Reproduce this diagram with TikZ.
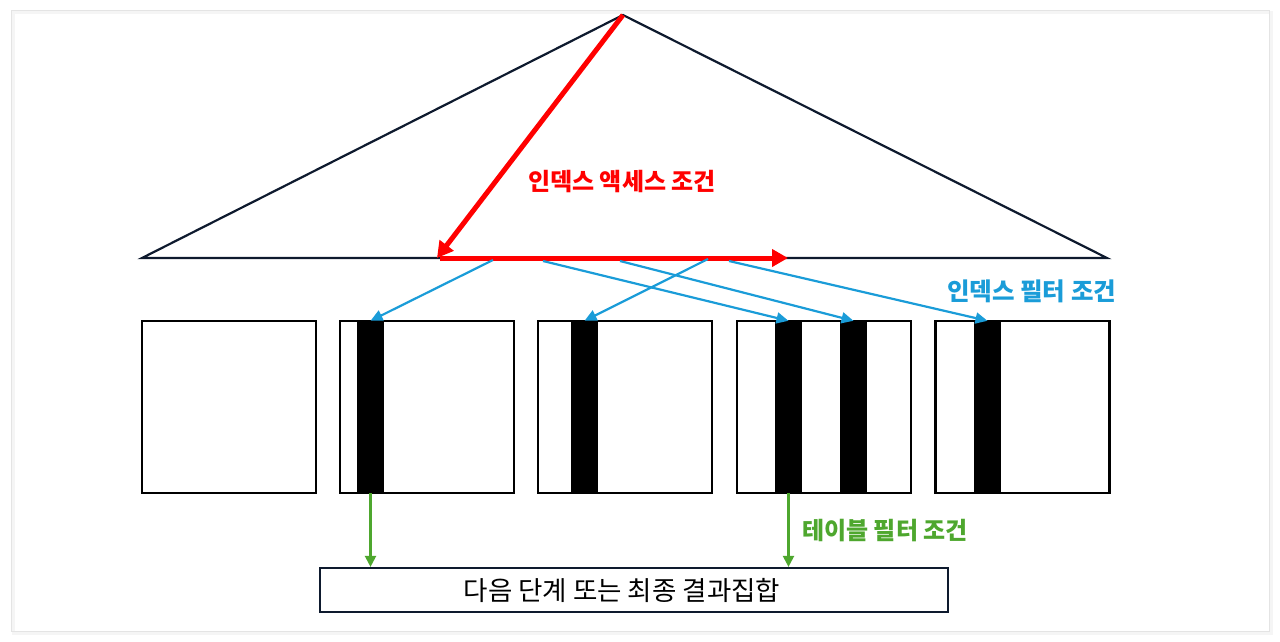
\documentclass[tikz,border=0pt]{standalone}
\usepackage{fontspec}
\newfontfamily\kr{Noto Sans CJK KR}
\usetikzlibrary{arrows.meta}
\definecolor{cred}{HTML}{FF0000}
\definecolor{cblue}{HTML}{1A9CD8}
\definecolor{cgreen}{HTML}{4EA72E}
\definecolor{cnavy}{HTML}{0E1A2E}
\definecolor{cframe}{HTML}{E4E4E4}
\tikzset{
  page box/.style={draw=black, line width=2.8pt, minimum width=174pt, minimum height=172pt, inner sep=0pt, fill=white},
  rowbar/.style={fill=black, draw=none, minimum width=27pt, minimum height=172pt, inner sep=0pt},
  redarrow/.style={draw=cred, line width=5pt, -{Triangle[length=16pt,width=17pt]}},
  bluearrow/.style={draw=cblue, line width=2.2pt, -{Triangle[length=12pt,width=11pt]}},
  greenarrow/.style={draw=cgreen, line width=2.2pt, -{Triangle[length=11pt,width=11pt]}},
  lbl/.style={font=\kr\bfseries\fontsize{24pt}{28pt}\selectfont, inner sep=0pt},
}
\begin{document}
\begin{tikzpicture}[x=1pt,y=-1pt]
\useasboundingbox (0,0) rectangle (1280,641);
% frame with soft shadow
\draw[draw=black!4, line width=3pt] (13,12) rectangle (1271,633);
\draw[draw=cframe, line width=1pt] (11,10) rectangle (1269,631);
% triangle
\coordinate (apex) at (623,15);
\coordinate (bl) at (142,258);
\coordinate (br) at (1107,258);
\draw[cnavy, line width=2.2pt, line join=miter] (bl) -- (apex) -- (br) -- cycle;
% pages
\node[page box] (p1) at (229,407) {};
\node[page box] (p2) at (427,407) {};
\node[page box] (p3) at (625,407) {};
\node[page box] (p4) at (824,407) {};
\node[page box] (p5) at (1022.5,407) {};
\node[rowbar] (b2) at (370.5,407) {};
\node[rowbar] (b3) at (584.5,407) {};
\node[rowbar] (b4a) at (788.5,407) {};
\node[rowbar] (b4b) at (853.5,407) {};
\node[rowbar] (b5) at (987.5,407) {};
% red access arrows
\coordinate (scanstart) at (437,258);
\coordinate (scanend) at (788,258);
\draw[redarrow] (apex) -- (scanstart);
\draw[redarrow] (440,258) -- (scanend);
% blue filter arrows
\coordinate (s1) at (493,260);
\coordinate (s2) at (543,261);
\coordinate (s3) at (620,261);
\coordinate (s4) at (708,259);
\coordinate (s5) at (729,261);
\draw[bluearrow] (s1) -- (b2.north);
\draw[bluearrow] (s2) -- (b4a.north);
\draw[bluearrow] (s3) -- (b4b.north);
\draw[bluearrow] (s4) -- (b3.north);
\draw[bluearrow] (s5) -- (b5.north);
% result box
\node[draw=cnavy, line width=2.2pt, minimum width=628pt, minimum height=44pt, inner sep=0pt] (res) at (634,590) {};
\node[inner sep=0pt, font=\kr\fontsize{26.5pt}{30pt}\selectfont] (restext) at ([xshift=-12pt]res.center) {다음 단계 또는 최종 결과집합};
\draw[greenarrow] (b2.south) -- (b2.south |- res.north);
\draw[greenarrow] (b4a.south) -- (b4a.south |- res.north);
% labels
\node[lbl, text=cred] (lacc) at (622,182) {인덱스 액세스 조건};
\node[lbl, text=cblue, anchor=west, font=\kr\bfseries\fontsize{24.5pt}{28pt}\selectfont] (lidx) at (947,291) {인덱스 필터 조건};
\node[lbl, text=cgreen, anchor=west] (ltab) at (802,531) {테이블 필터 조건};
\end{tikzpicture}
\end{document}
